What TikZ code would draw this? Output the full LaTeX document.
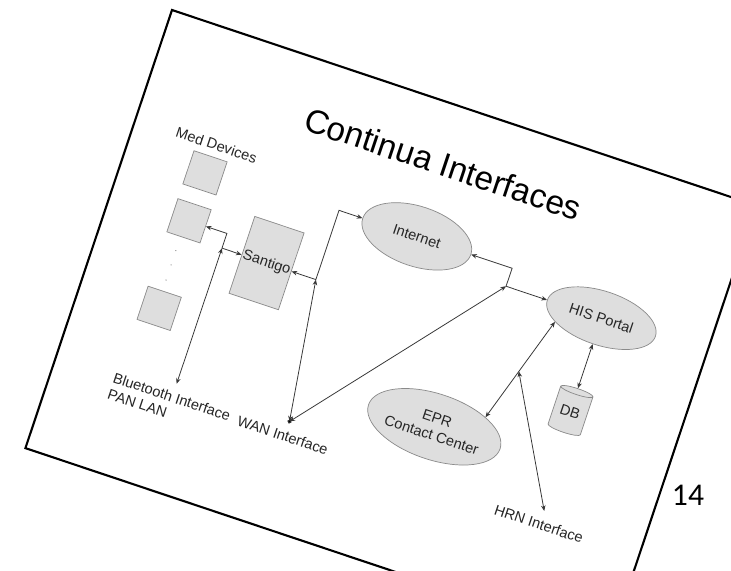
\documentclass[tikz,border=0pt]{standalone}
\usepackage{xcolor}
\usepackage{fontspec}
\setmainfont{Liberation Sans}
\newfontfamily\pagenumfont{Carlito}
\usepackage{tikz}
\usetikzlibrary{positioning,calc,arrows.meta,shapes.geometric}

\definecolor{boxfill}{HTML}{DEDEDE}
\definecolor{boxline}{HTML}{8A8A8A}
\definecolor{wire}{HTML}{383838}

\tikzset{
	device/.style={draw=boxline, fill=boxfill, minimum size=0.7cm, inner sep=0},
	oval/.style={ellipse, draw=boxline, fill=boxfill, inner sep=0, font=\fontsize{8.3}{10}\selectfont, text=black!85},
	lbl/.style={inner sep=0, font=\fontsize{8.3}{9.8}\selectfont, text=black!85},
	wire/.style={draw=wire, line width=0.45pt},
	both/.style={{Stealth[length=3.2pt,width=2.6pt]}-{Stealth[length=3.2pt,width=2.6pt]}}
}

\begin{document}
\begin{tikzpicture}
	\useasboundingbox (0,0) rectangle (14.62,-11.4);
	\begin{scope}[shift={(3.44,-0.2)}, rotate=-18.5, transform shape]
	\draw[line width=1.2pt, fill=white] (0,0) rectangle (12.32,-9.24);
	\path (6.12,-1.2) node (title) {\fontsize{19}{23}\selectfont Continua Interfaces};

	% devices
	\path (1.7,-2.28) node[lbl] (med) {Med Devices};
	\path (1.66,-2.88) node[device] (dev1) {};
	\path (1.66,-3.89) node[device] (dev2) {};
	\path (1.65,-5.74) node[device] (dev3) {};
	\fill[black!60] (1.6,-4.54) circle (0.012) (1.6,-4.84) circle (0.012) (1.6,-5.16) circle (0.012);
	\path (3.4,-4.2) node[device, minimum width=1.04cm, minimum height=1.62cm, lbl] (santigo) {Santigo};

	% ovals
	\path (6.08,-2.74) node[oval, minimum width=2.28cm, minimum height=1.2cm] (internet) {Internet};
	\path (10.1,-3.12) node[oval, minimum width=2.28cm, minimum height=1.08cm] (his) {HIS Portal};
	\path (7.62,-6.24) node[oval, minimum width=2.4cm, minimum height=1.32cm, align=center] (epr) {EPR\\Contact Center};
	\path (10.1,-5.1) node[cylinder, shape border rotate=90, aspect=0.3, draw=boxline, fill=boxfill,
		minimum width=0.68cm, minimum height=0.92cm, inner sep=0, lbl] (db) {DB};

	% junctions
	\coordinate (bt) at (2.46,-4.2);
	\coordinate (btend) at (2.46,-7.06);
	\coordinate (j1) at (4.44,-4.2);
	\coordinate (wan) at (4.84,-7.06);
	\coordinate (j2) at (8.09,-3.12);
	\coordinate (hrnj) at ($(his.203.5)!0.52!(epr.29)$);
	\coordinate (hrnend) at (10.24,-7.14);

	% links
	\draw[wire, both] (dev2.east) -| (bt) -- (santigo.west);
	\draw[wire, both] (santigo.east) -- (j1) |- (internet.west);
	\draw[wire, both] (internet.east) -| (j2) -- (his.west);
	\draw[wire, both] (his.203.5) -- (epr.29);
	\draw[wire, both] (his.south) -- (db.top);
	\draw[wire, both] (bt) -- (btend);
	\draw[wire, both] (j1) -- (wan);
	\draw[wire, both] (j2) -- (wan);
	\draw[wire, both] (hrnj) -- (hrnend);
	\fill[wire] (wan) circle (0.035);

	% interface labels
	\path (1.22,-7.22) node[lbl, anchor=north west, align=left] (bluetooth) {Bluetooth Interface\\PAN LAN};
	\path (4.8,-7.36) node[lbl] (wantext) {WAN Interface};
	\path (10.22,-7.42) node[lbl] (hrntext) {HRN Interface};
	\end{scope}
	\path (13.76,-9.9) node (page) {\pagenumfont\fontsize{18}{22}\selectfont 14};
\end{tikzpicture}
\end{document}
